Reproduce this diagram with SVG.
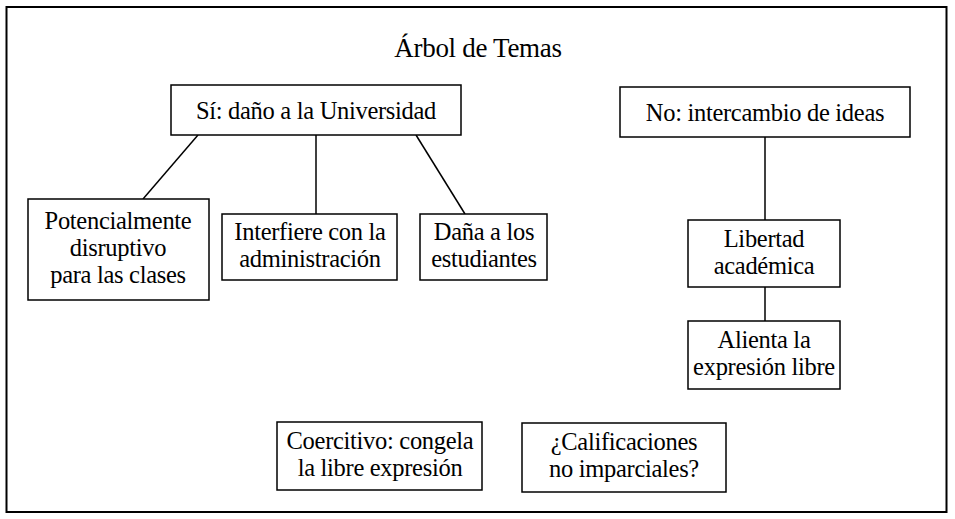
<svg xmlns="http://www.w3.org/2000/svg" width="955" height="519" viewBox="0 0 955 519">
<style>
.box{fill:#fff;stroke:#000;stroke-width:1.5}
.ln{stroke:#000;stroke-width:1.5;fill:none}
.t{font-family:'Liberation Serif',Tinos,'DejaVu Serif',serif;font-size:24.5px;fill:#000;text-anchor:middle;letter-spacing:-0.3px}
.title{font-size:27px}
</style>
<rect x="0" y="0" width="955" height="519" fill="#fff"/>
<rect x="6.5" y="7" width="940" height="505" fill="none" stroke="#000" stroke-width="2"/>
<text class="t title" x="478" y="57">Árbol de Temas</text>
<g id="connectors">
<line class="ln" x1="198" y1="135" x2="143" y2="199"/>
<line class="ln" x1="316" y1="135" x2="316" y2="214"/>
<line class="ln" x1="416" y1="135" x2="465" y2="214"/>
<line class="ln" x1="765" y1="137" x2="765" y2="220"/>
<line class="ln" x1="765" y1="287" x2="765" y2="321"/>
</g>
<g id="n-si" class="t"><rect class="box" x="171" y="85" width="290" height="50"/><text x="316" y="119">Sí: daño a la Universidad</text></g>
<g id="n-no" class="t"><rect class="box" x="620" y="87" width="290" height="50"/><text x="765" y="121">No: intercambio de ideas</text></g>
<g id="n-pot" class="t"><rect class="box" x="28" y="199" width="181" height="101"/><text x="118" y="229">Potencialmente</text><text x="118" y="256">disruptivo</text><text x="118" y="283">para las clases</text></g>
<g id="n-int" class="t"><rect class="box" x="222" y="214" width="175" height="66"/><text x="310" y="240">Interfiere con la</text><text x="310" y="267">administración</text></g>
<g id="n-dan" class="t"><rect class="box" x="420" y="214" width="127" height="66"/><text x="484" y="240">Daña a los</text><text x="484" y="267">estudiantes</text></g>
<g id="n-lib" class="t"><rect class="box" x="688" y="220" width="152" height="67"/><text x="764" y="247">Libertad</text><text x="764" y="274">académica</text></g>
<g id="n-ali" class="t"><rect class="box" x="688" y="321" width="152" height="68"/><text x="764" y="348">Alienta la</text><text x="764" y="375">expresión libre</text></g>
<g id="n-coe" class="t"><rect class="box" x="277" y="422" width="205" height="68"/><text x="380" y="449">Coercitivo: congela</text><text x="380" y="476">la libre expresión</text></g>
<g id="n-cal" class="t"><rect class="box" x="522" y="423" width="204" height="69"/><text x="624" y="450">¿Calificaciones</text><text x="624" y="477">no imparciales?</text></g>
</svg>
